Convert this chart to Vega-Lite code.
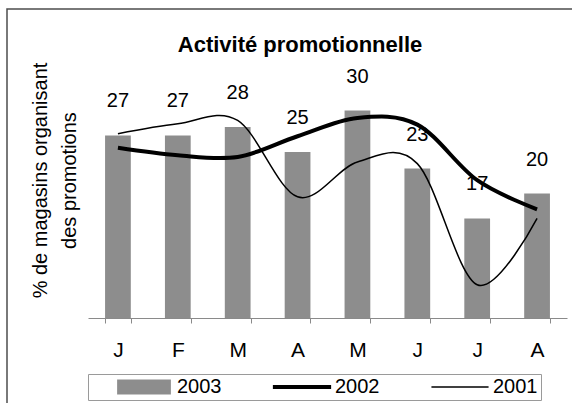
{
  "$schema": "https://vega.github.io/schema/vega-lite/v6.json",
  "width": 580,
  "height": 400,
  "autosize": {"type": "none"},
  "padding": {"left": 7, "top": 9, "right": 0, "bottom": 0},
  "background": "white",
  "config": {
    "view": {"stroke": "#4d4d4d", "strokeWidth": 1.5},
    "font": "Liberation Sans"
  },
  "title": {
    "text": "Activité promotionnelle",
    "fontSize": 22,
    "fontWeight": "bold",
    "font": "Liberation Sans",
    "color": "black",
    "anchor": "middle",
    "frame": "group",
    "orient": "top",
    "baseline": "alphabetic",
    "offset": -42,
    "dx": 3,
    "dy": 23
  },
  "data": {
    "values": [
      {"mois": "Jan", "serie": "2003", "valeur": 27},
      {"mois": "Fév", "serie": "2003", "valeur": 27},
      {"mois": "Mar", "serie": "2003", "valeur": 28},
      {"mois": "Avr", "serie": "2003", "valeur": 25},
      {"mois": "Mai", "serie": "2003", "valeur": 30},
      {"mois": "Juin", "serie": "2003", "valeur": 23},
      {"mois": "Juil", "serie": "2003", "valeur": 17},
      {"mois": "Août", "serie": "2003", "valeur": 20},
      {"mois": "Jan", "serie": "2002", "valeur": 25.5},
      {"mois": "Fév", "serie": "2002", "valeur": 24.6},
      {"mois": "Mar", "serie": "2002", "valeur": 24.4},
      {"mois": "Avr", "serie": "2002", "valeur": 26.9},
      {"mois": "Mai", "serie": "2002", "valeur": 29.1},
      {"mois": "Juin", "serie": "2002", "valeur": 28.3},
      {"mois": "Juil", "serie": "2002", "valeur": 21.6},
      {"mois": "Août", "serie": "2002", "valeur": 18.1},
      {"mois": "Jan", "serie": "2001", "valeur": 27.2},
      {"mois": "Fév", "serie": "2001", "valeur": 28.4},
      {"mois": "Mar", "serie": "2001", "valeur": 28.8},
      {"mois": "Avr", "serie": "2001", "valeur": 19.6},
      {"mois": "Mai", "serie": "2001", "valeur": 23.8},
      {"mois": "Juin", "serie": "2001", "valeur": 23.6},
      {"mois": "Juil", "serie": "2001", "valeur": 9.0},
      {"mois": "Août", "serie": "2001", "valeur": 17.0}
    ]
  },
  "encoding": {
    "x": {
      "field": "mois",
      "type": "ordinal",
      "sort": null,
      "scale": {"range": [81, 560], "paddingInner": 0.57, "paddingOuter": 0.285},
      "axis": {
        "title": null,
        "labelExpr": "slice(datum.label, 0, 1)",
        "offset": -91,
        "tickBand": "extent",
        "domainColor": "#8a8a8a",
        "tickColor": "#8a8a8a",
        "tickSize": 5,
        "labelFontSize": 21,
        "labelFont": "Liberation Sans",
        "labelColor": "black",
        "labelPadding": 16,
        "labelAngle": 0
      }
    }
  },
  "layer": [
    {
      "transform": [{"filter": "datum.serie === '2003'"}],
      "mark": {"type": "bar"},
      "encoding": {
        "y": {
          "field": "valeur",
          "type": "quantitative",
          "scale": {"domain": [5, 35], "range": [309, 60], "zero": false, "nice": false},
          "axis": {
            "title": ["% de magasins organisant", "des promotions"],
            "titleFontSize": 20,
            "titleFont": "Liberation Sans",
            "titleFontWeight": "normal",
            "titleColor": "black",
            "titleAngle": -90,
            "titleBaseline": "alphabetic",
            "titleAlign": "center",
            "titleLineHeight": 29,
            "titleX": 39,
            "titleY": 171,
            "labels": false,
            "ticks": false,
            "domain": false,
            "grid": false
          }
        },
        "y2": {"datum": 5},
        "color": {
          "field": "serie",
          "type": "nominal",
          "scale": {"domain": ["2003", "2002", "2001"], "range": ["#8d8d8d", "#000000", "#000000"]},
          "legend": {
            "title": null,
            "orient": "none",
            "legendX": 81,
            "legendY": 365,
            "direction": "horizontal",
            "columns": 3,
            "symbolSize": 3136,
            "symbolStrokeWidth": 0,
            "symbolOffset": 25,
            "clipHeight": 20,
            "labelFontSize": 20,
            "labelFont": "Liberation Sans",
            "labelColor": "black",
            "labelOffset": 5,
            "labelExpr": "datum.label === '2001' ? '2001\u00a0\u00a0\u00a0\u00a0' : datum.label",
            "columnPadding": 27,
            "padding": 3,
            "strokeColor": "#9a9a9a",
            "fillColor": "white",
            "encode": {
              "symbols": {
                "update": {
                  "shape": {"signal": "datum.value === '2003' ? 'M-0.96,-0.27H0.96V0.27H-0.96Z' : (datum.value === '2002' ? 'M-1.04,-0.075H1.04V0.075H-1.04Z' : 'M-1.02,-0.027H1.02V0.027H-1.02Z')"},
                  "fill": {"signal": "datum.value === '2003' ? '#8d8d8d' : '#000000'"},
                  "opacity": {"value": 1}
                }
              }
            }
          }
        }
      }
    },
    {
      "transform": [{"filter": "datum.serie !== '2003'"}],
      "mark": {"type": "line", "interpolate": "cardinal"},
      "encoding": {
        "y": {"field": "valeur", "type": "quantitative"},
        "color": {"field": "serie", "type": "nominal"},
        "strokeWidth": {
          "field": "serie",
          "type": "nominal",
          "scale": {"domain": ["2002", "2001"], "range": [4, 1.5]},
          "legend": null
        }
      }
    },
    {
      "transform": [{"filter": "datum.serie === '2003'"}],
      "mark": {"type": "text", "baseline": "middle", "dy": -34, "fontSize": 20, "font": "Liberation Sans", "color": "black"},
      "encoding": {
        "y": {"field": "valeur", "type": "quantitative"},
        "text": {"field": "valeur", "type": "quantitative"}
      }
    }
  ]
}
